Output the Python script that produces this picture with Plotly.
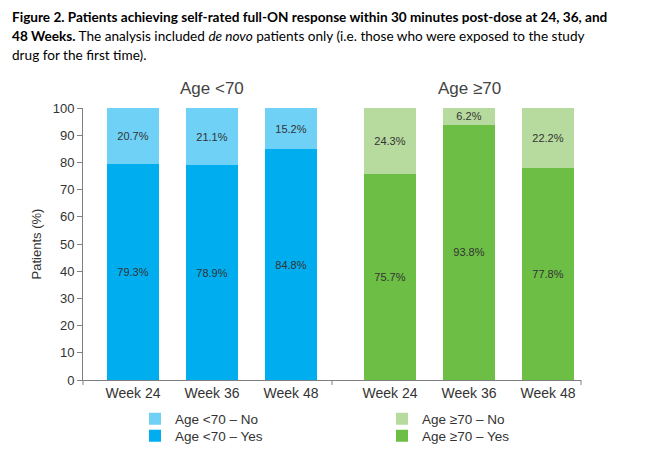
import plotly.graph_objects as go

weeks = ["Week 24", "Week 36", "Week 48"]
under70_yes = [79.3, 78.9, 84.8]
under70_no = [20.7, 21.1, 15.2]
over70_yes = [75.7, 93.8, 77.8]
over70_no = [24.3, 6.2, 22.2]
y_ticks = list(range(0, 101, 10))
group_titles = ["Age &lt;70", "Age ≥70"]
series_names = ["Age &lt;70 – Yes", "Age &lt;70 – No", "Age ≥70 – Yes", "Age ≥70 – No"]

C_BLUE, C_LBLUE = "#00AEEF", "#70D1F6"
C_GREEN, C_LGREEN = "#6DBE45", "#B7DB9E"
TXT = "#333333"
AX = "#808080"
FONT = "Liberation Sans, Arial, sans-serif"

# page body has an 8px margin; size the figure to fill the rest of the window
OFF = 8
W, H = 645 - OFF, 453 - OFF
L, R, T, B = 83 - OFF, 64, 108 - OFF, 73
PW, PH = W - L - R, H - T - B

def px_x(px):
    return (px - OFF - L) / PW

def px_y(py):
    return (H - B - (py - OFF)) / PH

fig = go.Figure()

def add_bar(x, y, name, color, xa, ya, legend):
    fig.add_trace(go.Bar(
        x=x, y=y, name=name, marker=dict(color=color, line=dict(width=0)),
        xaxis=xa, yaxis=ya, legend=legend,
        text=[f"{v:.1f}%" for v in y], textposition="inside",
        insidetextanchor="middle", textangle=0, constraintext="none",
        textfont=dict(size=11, color=TXT, family=FONT),
        hoverinfo="skip",
    ))

add_bar(weeks, under70_yes, series_names[0], C_BLUE, "x", "y", "legend2")
add_bar(weeks, under70_no, series_names[1], C_LBLUE, "x", "y", "legend")
add_bar(weeks, over70_yes, series_names[2], C_GREEN, "x2", "y2", "legend4")
add_bar(weeks, over70_no, series_names[3], C_LGREEN, "x2", "y2", "legend3")

xcommon = dict(type="category", showline=True, linecolor=AX, linewidth=1,
               ticks="", tickfont=dict(size=14, color=TXT, family=FONT),
               showgrid=False, zeroline=False, fixedrange=True)

def leg(px, py):
    return dict(x=px_x(px), y=px_y(py), xanchor="left", yanchor="middle",
                font=dict(size=13.5, color=TXT, family=FONT),
                bgcolor="rgba(0,0,0,0)", borderwidth=0)

fig.update_layout(
    width=W, height=H,
    margin=dict(l=L, r=R, t=T, b=B, autoexpand=False),
    paper_bgcolor="white", plot_bgcolor="white",
    barmode="stack", bargap=1 - 52 / 79,
    showlegend=True,
    font=dict(family=FONT, color=TXT),
    xaxis=dict(domain=[0, 0.5], range=[-50 / 79, 199 / 79], anchor="y", **xcommon),
    xaxis2=dict(domain=[0.5, 1], range=[-58 / 79, 191 / 79], anchor="y2", **xcommon),
    yaxis=dict(domain=[0, 1], range=[0, 100], tickvals=y_ticks, ticks="outside",
               ticklen=5, tickcolor=AX, showline=True, linecolor=AX, linewidth=1,
               tickfont=dict(size=13, color=TXT, family=FONT), showgrid=False,
               zeroline=False, anchor="x",
               title=dict(text="Patients (%)", font=dict(size=13, color=TXT, family=FONT), standoff=8)),
    yaxis2=dict(domain=[0, 1], range=[0, 100], visible=False, anchor="x2"),
    legend=leg(135, 419),
    legend2=leg(135, 436),
    legend3=leg(382, 419),
    legend4=leg(382, 436),
)

# tick marks at group boundaries on the x axis
for xp in (0, 0.5, 1):
    fig.add_shape(type="line", xref="paper", yref="paper", x0=xp, x1=xp,
                  ysizemode="pixel", yanchor=0, y0=0, y1=-5,
                  line=dict(color=AX, width=1))

# group titles
for xa, t in (("x", group_titles[0]), ("x2", group_titles[1])):
    fig.add_annotation(text=t, xref=xa, x="Week 36", yref="paper", y=px_y(88),
                       yanchor="middle", showarrow=False,
                       font=dict(size=17, color="#444444", family=FONT))

# figure caption
TFONT = "Lato, sans-serif"
cap_lines = [
    "<b>Figure 2. Patients achieving self-rated full-ON response within 30 minutes post-dose at 24, 36, and</b>",
    "<b>48 Weeks.</b> The analysis included <i>de novo</i> patients only (i.e. those who were exposed to the study",
    "drug for the first time).",
]
for line, py in zip(cap_lines, (17, 36, 55)):
    fig.add_annotation(text=line, xref="paper", x=px_x(10), xanchor="left",
                       yref="paper", y=px_y(py), yanchor="middle", showarrow=False,
                       font=dict(size=13.6, color="#000000", family=TFONT))

fig.write_html("out.html")
